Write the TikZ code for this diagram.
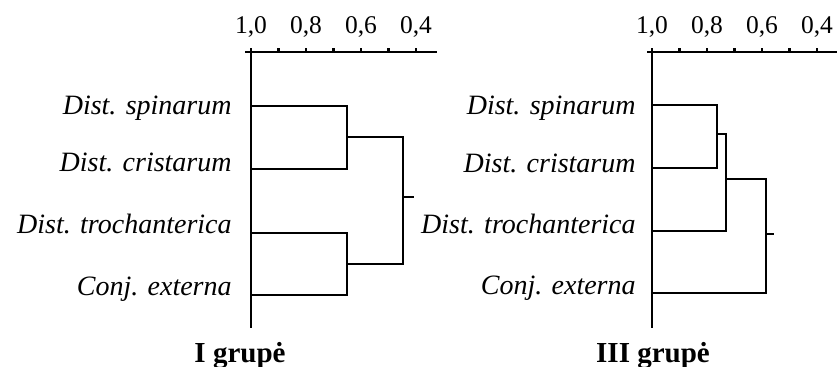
\documentclass[tikz,border=0pt]{standalone}
\usepackage{fontspec}
\setmainfont{Liberation Serif}
\begin{document}
\begin{tikzpicture}[x=1pt,y=-1pt,
  line width=2.8pt,
  lbl/.style={font=\fontsize{28}{30}\selectfont\itshape, anchor=base east, inner sep=0pt},
  ticklbl/.style={font=\fontsize{25.5}{27}\selectfont, anchor=base, inner sep=0pt},
  ttl/.style={font=\fontsize{29}{31}\selectfont\bfseries, anchor=base, inner sep=0pt},
  axisline/.style={line width=2.8pt},
  tickmark/.style={line width=2.2pt},
  dendro/.style={line width=2.8pt, line join=miter}]
\useasboundingbox (0,0) rectangle (839,367);

% ---------------- left panel ----------------
\coordinate (A0) at (251,52);
\coordinate (Ab) at (251,328);
\coordinate (Al) at (245,52);
\coordinate (Ar) at (437,52);
\draw[axisline] (Al) -- (Ar);
\draw[axisline] (A0) -- (Ab);
\foreach \i/\x in {0/251,1/278.5,2/306,3/333.5,4/361,5/388.5,6/416} {
  \coordinate (At\i) at (\x,52);
  \draw[tickmark] (At\i) -- ++(0,-4.5);
}
\node[ticklbl] (Atl0) at (251,33) {1,0};
\node[ticklbl] (Atl2) at (306,33) {0,8};
\node[ticklbl] (Atl4) at (361,33) {0,6};
\node[ticklbl] (Atl6) at (416,33) {0,4};

\node[lbl] (La) at (233,114) {Dist. spinarum};
\node[lbl] (Lb) at (233,171) {Dist. cristarum};
\node[lbl] (Lc) at (233,233) {Dist. trochanterica};
\node[lbl] (Ld) at (233,295) {Conj. externa};

\coordinate (La0) at (251,106);
\coordinate (Lb0) at (251,169);
\coordinate (Lc0) at (251,233);
\coordinate (Ld0) at (251,295);
\coordinate (Lm1) at (347,137);
\coordinate (Lm2) at (347,264);
\coordinate (Lm3) at (403,197);
\coordinate (Lstub) at (414,197);

\draw[dendro] (La0) -| (Lm1) |- (Lb0);
\draw[dendro] (Lc0) -| (Lm2) |- (Ld0);
\draw[dendro] (Lm1) -| (Lm3) |- (Lm2);
\draw[dendro] (Lm3) -- (Lstub);

\node[ttl] (Lt) at (240,362) {I grupė};

% ---------------- right panel ----------------
\coordinate (B0) at (652,52);
\coordinate (Bb) at (652,328);
\coordinate (Bl) at (647,52);
\coordinate (Br) at (837,52);
\draw[axisline] (Bl) -- (Br);
\draw[axisline] (B0) -- (Bb);
\foreach \i/\x in {0/652,1/679.5,2/707,3/734.5,4/762,5/789.5,6/817} {
  \coordinate (Bt\i) at (\x,52);
  \draw[tickmark] (Bt\i) -- ++(0,-4.5);
}
\node[ticklbl] (Btl0) at (652,33) {1,0};
\node[ticklbl] (Btl2) at (707,33) {0,8};
\node[ticklbl] (Btl4) at (762,33) {0,6};
\node[ticklbl] (Btl6) at (817,33) {0,4};

\node[lbl] (Ra) at (637,114) {Dist. spinarum};
\node[lbl] (Rb) at (637,172) {Dist. cristarum};
\node[lbl] (Rc) at (637,233) {Dist. trochanterica};
\node[lbl] (Rd) at (637,294) {Conj. externa};

\coordinate (Ra0) at (652,105);
\coordinate (Rb0) at (652,168);
\coordinate (Rc0) at (652,231);
\coordinate (Rd0) at (652,293);
\coordinate (Rm1) at (717,134);
\coordinate (Rm2) at (726,179);
\coordinate (Rm3) at (766,234);
\coordinate (Rstub) at (774,234);

\draw[dendro] (Ra0) -| (Rm1) |- (Rb0);
\draw[dendro] (Rm1) -| (Rm2) |- (Rc0);
\draw[dendro] (Rm2) -| (Rm3) |- (Rd0);
\draw[dendro] (Rm3) -- (Rstub);

\node[ttl] (Rt) at (653,362) {III grupė};
\end{tikzpicture}
\end{document}
